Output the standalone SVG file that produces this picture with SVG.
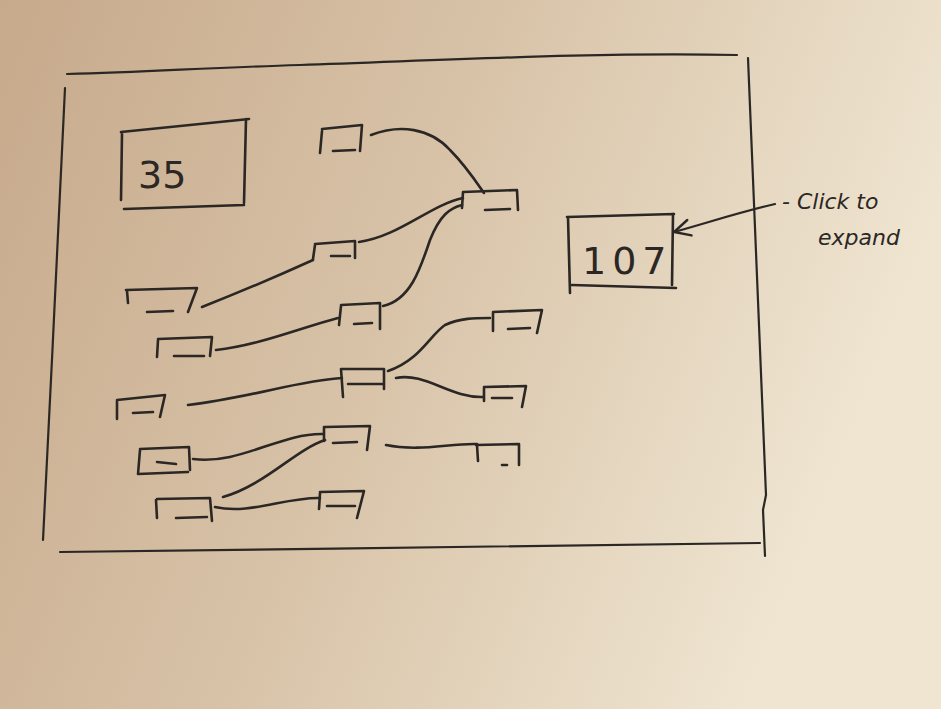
<svg xmlns="http://www.w3.org/2000/svg" width="941" height="709" viewBox="0 0 941 709">
<defs>
<linearGradient id="paper" x1="0" y1="0" x2="1" y2="0.3">
<stop offset="0" stop-color="#c7a98b"/>
<stop offset="0.5" stop-color="#d8c3a8"/>
<stop offset="1" stop-color="#efe5d1"/>
</linearGradient>
<marker id="arr" viewBox="0 0 20 20" refX="2" refY="10" markerWidth="20" markerHeight="20" markerUnits="userSpaceOnUse" orient="auto">
<path d="M18,2 L2,10 L18,18" fill="none" stroke="#2b2724" stroke-width="2.4" stroke-linecap="round"/>
</marker>
</defs>
<style>
.ink{fill:none;stroke:#2b2724;stroke-width:2.6;stroke-linecap:round;stroke-linejoin:round}
.thin{fill:none;stroke:#2b2724;stroke-width:2.2;stroke-linecap:round;stroke-linejoin:round}
.big{font-family:"DejaVu Sans","Liberation Sans",sans-serif;font-size:38px;fill:#2b2724}
.note{font-family:"DejaVu Sans","Liberation Sans",sans-serif;font-size:22px;fill:#2b2724;font-style:italic}
</style>
<rect width="941" height="709" fill="url(#paper)"/>
<g id="frame">
<path class="thin" d="M67,74 C150,72 200,68 300,65 C450,60 600,52 737,55"/>
<path class="thin" d="M65,88 C60,200 50,400 43,540"/>
<path class="thin" d="M748,58 L766,495 L763,510 L765,556"/>
<path class="thin" d="M60,552 C300,550 500,545 760,543"/>
</g>
<g id="counter35">
<path class="ink" d="M121,132 L249,119 M122,134 L121,200 M246,119 L244,203 M124,209 L244,205"/>
<text class="big" x="138" y="188">35</text>
</g>
<g id="counter107">
<path class="ink" d="M567,217 L674,214 M568,217 L570,293 M673,214 L672,285 M572,285 L676,288"/>
<text class="big" x="582" y="274" letter-spacing="6">107</text>
</g>
<g id="note">
<path class="thin" d="M674,232 C710,222 740,212 775,204" marker-start="url(#arr)"/>
<text class="note" x="782" y="209">- Click to</text>
<text class="note" x="818" y="245">expand</text>
</g>
<g id="nodes" class="ink">
<g id="n1"><path d="M322,129 L362,125 L360,151 M322,131 L320,153 M333,151 L355,150"/></g>
<g id="n2"><path d="M463,192 L517,190 L518,210 M463,192 L462,208 M485,210 L510,209"/></g>
<g id="n3"><path d="M315,244 L355,241 L355,258 M315,245 L313,259 M331,256 L350,256"/></g>
<g id="n4"><path d="M126,290 L197,288 L188,312 M127,291 L128,303 M147,312 L173,311"/></g>
<g id="n5"><path d="M341,305 L380,303 L380,329 M341,306 L339,325 M354,324 L372,323"/></g>
<g id="n6"><path d="M158,339 L212,337 L210,356 M158,340 L157,357 M174,356 L204,356"/></g>
<g id="n7"><path d="M493,312 L542,310 L537,333 M493,313 L493,331 M508,329 L530,328"/></g>
<g id="n8"><path d="M341,369 L384,369 L384,389 M341,369 L343,397 M348,384 L382,384"/></g>
<g id="n9"><path d="M117,400 L165,395 L160,417 M117,401 L117,419 M133,413 L153,412"/></g>
<g id="n10"><path d="M484,387 L526,386 L522,407 M484,388 L484,401 M492,398 L512,398"/></g>
<g id="n11"><path d="M325,427 L370,426 L367,450 M324,427 L324,441 M333,443 L357,442"/></g>
<g id="n12"><path d="M140,449 L189,447 L190,470 M140,450 L138,474 L188,472 M157,462 L176,464"/></g>
<g id="n13"><path d="M476,445 L519,444 L519,465 M477,445 L478,461 M502,465 L507,465"/></g>
<g id="n14"><path d="M157,499 L210,498 L212,521 M156,500 L157,518 M176,518 L207,517"/></g>
<g id="n15"><path d="M320,492 L364,491 L357,518 M320,493 L319,509 M327,506 L355,506"/></g>
</g>
<g id="connectors" class="ink">
<path d="M371,135 C400,124 430,128 450,150 C465,165 475,180 484,193"/>
<path d="M359,242 C400,236 430,205 463,198"/>
<path d="M202,307 C240,292 280,275 313,260"/>
<path d="M383,306 C410,300 420,270 430,240 C440,215 450,208 462,205"/>
<path d="M216,350 C260,345 300,328 338,318"/>
<path d="M388,371 C420,360 430,335 445,325 C460,318 475,318 490,318"/>
<path d="M396,378 C425,372 450,398 483,397"/>
<path d="M188,405 C250,398 300,380 342,378"/>
<path d="M386,445 C420,452 450,443 477,444"/>
<path d="M193,459 C240,465 280,433 323,434"/>
<path d="M223,497 C265,485 295,450 325,440"/>
<path d="M215,507 C250,515 285,497 320,498"/>
</g>
</svg>
